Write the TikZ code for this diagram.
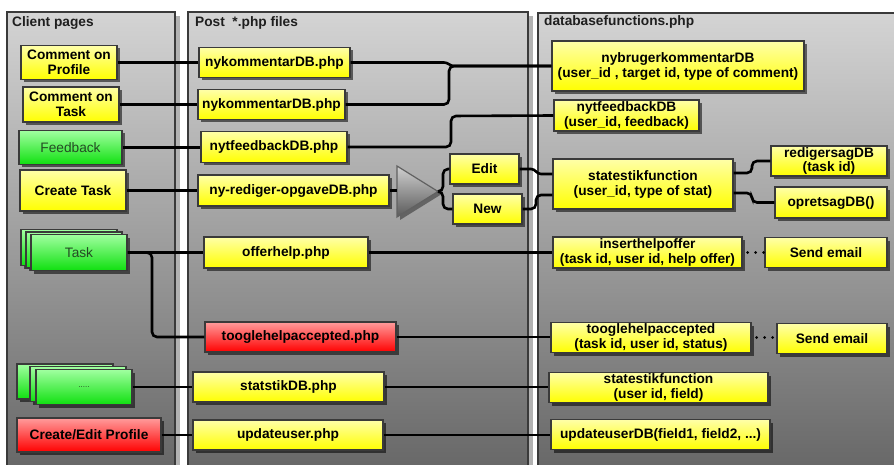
\documentclass[tikz,border=0pt]{standalone}
\usepackage{fontspec}
\setmainfont{Liberation Sans}
\usetikzlibrary{shadows}

\definecolor{edge}{HTML}{3A3A3A}
\definecolor{yTop}{HTML}{FFFFA8}
\definecolor{yBot}{HTML}{FFFF00}
\definecolor{gTop}{HTML}{A0FFA0}
\definecolor{gBot}{HTML}{10E010}
\definecolor{gText}{HTML}{244A24}
\definecolor{rTop}{HTML}{FF9C9C}
\definecolor{rBot}{HTML}{FF0000}
\definecolor{pTop}{HTML}{D4D4D4}
\definecolor{pBot}{HTML}{666666}
\definecolor{tTop}{HTML}{D0D0D0}
\definecolor{tBot}{HTML}{5A5A5A}

\tikzset{
  box/.style={draw=edge, line width=1.4pt, inner sep=0pt, align=center,
    font=\bfseries\fontsize{13.7}{15}\selectfont,
    drop shadow={shadow xshift=3pt, shadow yshift=-3pt, fill=black, opacity=0.55}},
  wh/.style 2 args={minimum width=#1pt, minimum height=#2pt},
  ybox/.style={box, top color=yTop, bottom color=yBot},
  gbox/.style={box, top color=gTop, bottom color=gBot, text=gText,
    font=\fontsize{13.7}{15}\selectfont},
  rbox/.style={box, top color=rTop, bottom color=rBot},
  panel/.style={draw=edge, line width=1.4pt, top color=pTop, bottom color=pBot,
    drop shadow={shadow xshift=5pt, shadow yshift=-4pt, fill=black!30, opacity=1}},
  ptitle/.style={anchor=west, inner sep=0pt, text=black!88,
    font=\bfseries\fontsize{13.7}{15}\selectfont},
  conn/.style={line width=2.6pt, rounded corners=5pt},
  dotline/.style={line width=3pt, line cap=round, dash pattern=on 0pt off 8pt},
  tri/.style={draw=edge!80, line width=1.2pt, top color=tTop, bottom color=tBot},
}

\begin{document}
\begin{tikzpicture}[x=1pt, y=-1pt]
\clip (0,0) rectangle (894,465);
\fill[white] (0,0) rectangle (894,465);

% swim lanes
\path[panel] (7,12) rectangle (175,475);
\path[panel] (188,12) rectangle (528,475);
\path[panel] (538,13) rectangle (905,475);
\node[ptitle] (tclient) at (12,23) {Client pages};
\node[ptitle] (tpost) at (195,23) {Post\ \ *.php files};
\node[ptitle] (tdb) at (544,22) {databasefunctions.php};

% client pages
\node[ybox, wh={96}{34}] (cprof) at (69,62.5) {Comment on\\Profile};
\node[ybox, wh={96}{35}] (ctask) at (71,104.5) {Comment on\\Task};
\node[gbox, wh={103}{34}] (feed) at (70.5,147.5) {Feedback};
\node[ybox, wh={106}{41}] (create) at (73,190.5) {Create Task};
\node[gbox, wh={96}{36}] (taskc) at (69,247.5) {};
\node[gbox, wh={96}{36}] (taskb) at (74,250) {};
\node[gbox, wh={96}{36}] (task) at (79,252.5) {Task};
\node[gbox, wh={96}{35}] (listc) at (65,381.5) {};
\node[gbox, wh={96}{35}] (listb) at (78,384) {};
\node[gbox, wh={96}{35}, font=\fontsize{8}{9}\selectfont] (list) at (84,387) {.....};
\node[rbox, wh={144}{34}] (cedit) at (89,435) {Create/Edit Profile};

% post handlers
\node[ybox, wh={151}{30}] (nyk1) at (274.5,62.5) {nykommentarDB.php};
\node[ybox, wh={147}{30}] (nyk2) at (271.5,104.5) {nykommentarDB.php};
\node[ybox, wh={146}{31}] (nytf) at (274,147) {nytfeedbackDB.php};
\node[ybox, wh={191}{31}] (nyred) at (293.5,190.5) {ny-rediger-opgaveDB.php};
\node[ybox, wh={69}{30}] (edit) at (484.5,169) {Edit};
\node[ybox, wh={69}{30}] (new) at (487.5,209) {New};
\node[ybox, wh={164}{31}] (offer) at (286,252.5) {offerhelp.php};
\node[rbox, wh={191}{30}] (togphp) at (300.5,337) {tooglehelpaccepted.php};
\node[ybox, wh={191}{30}] (statdb) at (288.5,387) {statstikDB.php};
\node[ybox, wh={190}{30}] (upd) at (288,435) {updateuser.php};

% switch between edit and new
\draw[tri, drop shadow={shadow xshift=3pt, shadow yshift=-3pt, fill=black, opacity=0.4}]
  (397,166) -- (438,191.5) -- (397,217) -- cycle;
\coordinate (tin) at (397,190.5);
\coordinate (tip) at (438,191.5);

% database functions
\node[ybox, wh={252}{50}] (nybr) at (678,66) {nybrugerkommentarDB\\(user\_id , target id, type of comment)};
\node[ybox, wh={145}{31}] (nytfdb) at (626.5,115.5) {nytfeedbackDB\\(user\_id, feedback)};
\node[ybox, wh={180}{50}] (stat1) at (643,184) {statestikfunction\\(user\_id, type of stat)};
\node[ybox, wh={116}{30}, font=\bfseries\fontsize{13.7}{14}\selectfont] (redig) at (829,161) {redigersagDB\\(task id)};
\node[ybox, wh={112}{31}] (opret) at (831,202.5) {opretsagDB()};
\node[ybox, wh={189}{31}, font=\bfseries\fontsize{13.7}{14.5}\selectfont] (insert) at (647.5,252.5) {inserthelpoffer\\(task id, user id, help offer)};
\node[ybox, wh={122}{30}] (send1) at (826,252.5) {Send email};
\node[ybox, wh={200}{30}, font=\bfseries\fontsize{13.7}{14.5}\selectfont] (togdb) at (651,337.5) {tooglehelpaccepted\\(task id, user id, status)};
\node[ybox, wh={110}{30}] (send2) at (832,338.5) {Send email};
\node[ybox, wh={219}{30}, font=\bfseries\fontsize{13.7}{14.5}\selectfont] (stat2) at (658.5,387.5) {statestikfunction\\(user id, field)};
\node[ybox, wh={219}{30}] (upddb) at (660.5,434.5) {updateuserDB(field1, field2, ...)};

% connectors: client pages to handlers
\draw[conn] (cprof.east) -- (cprof.east -| nyk1.west);
\draw[conn] (ctask.east) -- (ctask.east -| nyk2.west);
\draw[conn] (feed.east) -- (feed.east -| nytf.west);
\draw[conn] (create.east) -- (create.east -| nyred.west);
\draw[conn] (task.east) -- (task.east -| offer.west);
\draw[conn] (task.east) -- (152,252.5) -- (152,337) -- (togphp.west);
\draw[conn] (list.east) -- (list.east -| statdb.west);
\draw[conn] (cedit.east) -- (cedit.east -| upd.west);

% connectors: handlers to database functions
\coordinate (merge) at (449,66);
\draw[line width=2.6pt] (nyk1.east) -- (444,62.5) to[out=0, in=180] (454,66) -- (nybr.west);
\draw[conn] (nyk2.east) -- (nyk2.east -| merge) -- (merge) -- (nybr.west);
\draw[conn] (nytf.east) -- (451,147) -- (451,116) -- (nytfdb.west);
\draw[conn] (nyred.east) -- (tin);
\draw[conn] (tip) -- (443,191.5) -- (443,169) -- (edit.west);
\draw[conn] (tip) -- (443,191.5) -- (443,209) -- (new.west);
\draw[line width=2.6pt] (edit.east) -- (531,169) to[out=0, in=180] (541,174) -- ([yshift=10pt]stat1.west);
\draw[conn] (new.east) -- (536,209) -- (536,195) -- ([yshift=-11pt]stat1.west);
\draw[conn] ([yshift=11pt]stat1.east) -- (752,173) -- (752,161) -- (redig.west);
\draw[conn] ([yshift=-9pt]stat1.east) -- (752,193) -- (752,202.5) -- (opret.west);
\draw[conn] (offer.east) -- (offer.east -| insert.west);
\draw[conn] (togphp.east) -- (togphp.east -| togdb.west);
\draw[conn] (statdb.east) -- (statdb.east -| stat2.west);
\draw[conn] (upd.east) -- (upd.east -| upddb.west);

% loose links to mail
\draw[dotline] ([xshift=5pt]insert.east) -- (insert.east -| send1.west);
\draw[dotline] ([xshift=5pt]togdb.east) -- (togdb.east -| send2.west);
\end{tikzpicture}
\end{document}
